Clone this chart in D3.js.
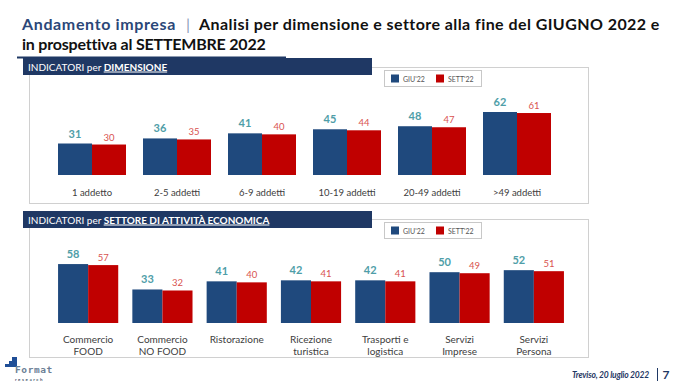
<!DOCTYPE html>
<html><head><meta charset="utf-8">
<script src="https://cdn.jsdelivr.net/npm/d3@7"></script>
<style>body{margin:0;background:#fff;} svg{display:block;font-family:"Lato","Open Sans",sans-serif;}</style>
</head><body>
<svg id="c" width="680" height="383"></svg>
<script>
const seriesNames = ["GIU'22", "SETT'22"];
const dimCats = ["1 addetto", "2-5 addetti", "6-9 addetti", "10-19 addetti", "20-49 addetti", ">49 addetti"];
const dimGiu = [31, 36, 41, 45, 48, 62];
const dimSett = [30, 35, 40, 44, 47, 61];
const setCats = ["Commercio\nFOOD", "Commercio\nNO FOOD", "Ristorazione", "Ricezione\nturistica", "Trasporti e\nlogistica", "Servizi\nImprese", "Servizi\nPersona"];
const setGiu = [58, 33, 41, 42, 42, 50, 52];
const setSett = [57, 32, 40, 41, 41, 49, 51];

const C = {blue:"#1f497d", red:"#c00000", head:"#1f3864", blueLbl:"#4f9ea8", redLbl:"#d9534f", txt:"#404040"};
const svg = d3.select("#c");

// Title: fit width by letter-spacing
function fitText(x, y, w, txt, fill, size) {
  const t = svg.append("text").attr("x", x).attr("y", y).attr("font-size", size).attr("font-weight", 700)
    .attr("fill", fill).text(txt);
  const nat = t.node().getComputedTextLength();
  t.attr("letter-spacing", (w - nat) / txt.length);
  return t;
}
fitText(22, 30, 154, "Andamento impresa", "#2b4778", 16);
svg.append("text").attr("x", 188).attr("y", 30).attr("text-anchor", "middle").attr("font-size", 16).attr("fill", "#8a9bb8").text("|");
fitText(199, 30, 460, "Analisi per dimensione e settore alla fine del GIUGNO 2022 e", "#111", 16);
fitText(22, 49.5, 243, "in prospettiva al SETTEMBRE 2022", "#111", 16);
svg.append("line").attr("x1", 17).attr("x2", 286).attr("y1", 57.5).attr("y2", 57.5).attr("stroke", C.head).attr("stroke-width", 2);

function panel(cfg) {
  const {top, boxTop, boxBot, label1, label2, cats, giu, sett, range, pin, pout, base, fs} = cfg;
  const g = svg.append("g");
  g.append("rect").attr("x", 29.5).attr("y", boxTop + 0.5).attr("width", 559).attr("height", boxBot - boxTop)
    .attr("fill", "none").attr("stroke", "#d0d0d0").attr("stroke-width", 1);
  g.append("rect").attr("x", 23).attr("y", top).attr("width", 349).attr("height", 17).attr("fill", C.head);
  const ht = g.append("text").attr("x", 28).attr("y", top + 12.5).attr("font-size", 10).attr("fill", "#fff");
  ht.append("tspan").text(label1 + " ");
  ht.append("tspan").attr("font-weight", 700).attr("text-decoration", "underline").text(label2);
  const lg = g.append("g").attr("transform", `translate(384,${boxTop + 3})`);
  lg.append("rect").attr("x", 0.5).attr("y", 0.5).attr("width", 97).attr("height", 16).attr("fill", "#fff").attr("stroke", "#c8c8c8");
  const lc = [C.blue, C.red];
  const lx = [7, 52];
  seriesNames.forEach((s, i) => {
    lg.append("rect").attr("x", lx[i]).attr("y", 4.5).attr("width", 8).attr("height", 8).attr("fill", lc[i]);
    lg.append("text").attr("x", lx[i] + 12).attr("y", 11.5).attr("font-size", 7).attr("fill", "#555").text(s);
  });

  const data = cats.map((c, i) => ({c, v: [giu[i], sett[i]]}));
  const x0 = d3.scaleBand().domain(cats).range(range).paddingInner(pin).paddingOuter(pout);
  const x1 = d3.scaleBand().domain([0, 1]).range([0, x0.bandwidth()]);
  const y = d3.scaleLinear().domain([0, 100]).range([base, base - 101.6]);

  const grp = g.selectAll("g.grp").data(data).join("g").attr("class", "grp")
    .attr("transform", d => `translate(${x0(d.c)},0)`);
  grp.selectAll("rect").data(d => d.v).join("rect")
    .attr("x", (v, i) => x1(i)).attr("width", x1.bandwidth())
    .attr("y", v => y(v)).attr("height", v => y(0) - y(v))
    .attr("fill", (v, i) => lc[i]);
  grp.selectAll("text").data(d => d.v).join("text")
    .attr("x", (v, i) => x1(i) + x1.bandwidth() / 2).attr("y", (v, i) => y(v) - (i === 0 ? 6 : 4))
    .attr("text-anchor", "middle")
    .attr("font-size", (v, i) => i === 0 ? 11 : 9.5)
    .attr("font-weight", (v, i) => i === 0 ? 700 : 400)
    .attr("fill", (v, i) => i === 0 ? C.blueLbl : C.redLbl)
    .text(v => v);

  const ax = g.append("g").attr("transform", `translate(0,${cfg.labelY})`)
    .call(d3.axisBottom(x0).tickSize(0).tickPadding(0));
  ax.select(".domain").remove();
  ax.selectAll("text").attr("font-size", fs).attr("fill", C.txt).attr("font-family", "Lato, sans-serif")
    .attr("dy", 0).attr("y", 0)
    .each(function(d) {
      const el = d3.select(this); el.text(null);
      d.split("\n").forEach((ln, k) => el.append("tspan").attr("x", 0).attr("dy", k === 0 ? 0 : "1.15em").text(ln));
    });
}

panel({top: 58, boxTop: 67, boxBot: 203, label1: "INDICATORI per", label2: "DIMENSIONE",
  cats: dimCats, giu: dimGiu, sett: dimSett, range: [49.5, 559.5], pin: 0.2, pout: 0.1, base: 175, labelY: 196, fs: 9.5});
panel({top: 211, boxTop: 219, boxBot: 357, label1: "INDICATORI per", label2: "SETTORE DI ATTIVITÀ ECONOMICA",
  cats: setCats, giu: setGiu, sett: setSett, range: [51, 571], pin: 0.19, pout: 0.095, base: 323, labelY: 343, fs: 10});

// logo
const lo = svg.append("g");
lo.append("rect").attr("x", 12).attr("y", 357).attr("width", 5).attr("height", 10).attr("fill", "#1f4e96");
lo.append("rect").attr("x", 5).attr("y", 364).attr("width", 12).attr("height", 3).attr("fill", "#1f4e96");
lo.append("rect").attr("x", 9).attr("y", 361).attr("width", 3).attr("height", 3).attr("fill", "#1f4e96");
lo.append("text").attr("x", 15).attr("y", 372.5).attr("font-size", 9.5).attr("font-weight", 700).attr("font-family", "DejaVu Sans Mono, monospace").attr("fill", "#6c7f96")
  .attr("letter-spacing", 0.6).text("Format");
lo.append("text").attr("x", 15).attr("y", 380.5).attr("font-size", 4.5).attr("font-weight", 700).attr("letter-spacing", 1.5).attr("fill", "#4a5a70").text("research");

// footer
const ft = svg.append("text").attr("x", 649).attr("y", 378).attr("text-anchor", "end").attr("font-size", 8.5).attr("font-style", "italic").attr("font-weight", 700).attr("fill", C.head)
  .text("Treviso, 20 luglio 2022");
ft.attr("letter-spacing", (77 - ft.node().getComputedTextLength()) / 23);
svg.append("line").attr("x1", 657.5).attr("x2", 657.5).attr("y1", 368).attr("y2", 381).attr("stroke", C.head).attr("stroke-width", 1);
svg.append("text").attr("x", 666).attr("y", 379).attr("text-anchor", "middle").attr("font-size", 12).attr("font-weight", 700).attr("fill", C.head).text("7");
</script>
</body></html>
